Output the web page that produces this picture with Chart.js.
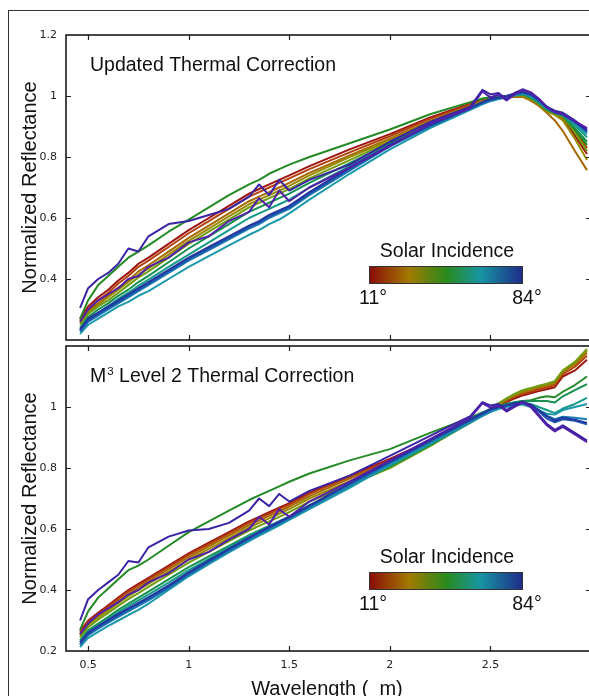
<!DOCTYPE html>
<html lang="en">
<head>
<meta charset="UTF-8">
<title>Normalized Reflectance vs Wavelength</title>
<script src="https://cdn.jsdelivr.net/npm/chart.js@4.4.1/dist/chart.umd.min.js"></script>
<style>
    html, body { margin: 0; padding: 0; background: #fff; overflow: hidden; }
    #wrap { position: relative; width: 589px; height: 696px; overflow: hidden; }
    #frame { position: absolute; left: 8px; top: 10px; width: 700px; height: 800px;
             border-left: 1px solid #333; border-top: 1px solid #333; }
    canvas { position: absolute; left: 0; }
    #top { top: 0; }
    #bottom { top: 340px; }
</style>
</head>
<body>
<div id="wrap">
    <div id="frame"></div>
    <canvas id="top" width="600" height="345"></canvas>
    <canvas id="bottom" width="600" height="356"></canvas>
</div>

<script>
    // ---------------- data ----------------
    var wavelength = [0.46, 0.50, 0.55, 0.60, 0.65, 0.70, 0.75, 0.80, 0.90, 1.00, 1.10, 1.20, 1.30, 1.35, 1.40, 1.45, 1.50, 1.60, 1.80, 2.00, 2.20,
                      2.40, 2.46, 2.50, 2.54, 2.58, 2.62, 2.66, 2.70, 2.74, 2.78, 2.82, 2.86, 2.92, 2.98];
    var incidence = [11, 16, 22, 27, 33, 38, 44, 50, 55, 61, 67, 72, 78, 84];
    var xTicks = [0.5, 1, 1.5, 2, 2.5];
    var yTicks = [0.2, 0.4, 0.6, 0.8, 1, 1.2];

    // Updated Thermal Correction, one row per incidence angle
    var updatedRefl = [
        [0.27, 0.31, 0.34, 0.365, 0.395, 0.42, 0.45, 0.47, 0.515, 0.56, 0.60, 0.64, 0.68, 0.695, 0.71, 0.725, 0.74, 0.77, 0.825, 0.875, 0.93,
         0.975, 0.988, 0.993, 0.997, 1.0, 1.003, 1.003, 0.99, 0.972, 0.952, 0.942, 0.93, 0.87, 0.81],
        [0.265, 0.30, 0.33, 0.355, 0.385, 0.41, 0.44, 0.46, 0.505, 0.55, 0.59, 0.63, 0.67, 0.685, 0.70, 0.715, 0.73, 0.76, 0.815, 0.868, 0.925,
         0.972, 0.986, 0.991, 0.995, 0.998, 1.0, 1.0, 0.988, 0.97, 0.95, 0.94, 0.928, 0.885, 0.83],
        [0.26, 0.295, 0.32, 0.345, 0.372, 0.395, 0.425, 0.445, 0.49, 0.535, 0.575, 0.615, 0.655, 0.67, 0.685, 0.70, 0.715, 0.748, 0.805, 0.86, 0.918,
         0.968, 0.983, 0.988, 0.992, 0.995, 0.997, 0.997, 0.985, 0.968, 0.945, 0.92, 0.885, 0.82, 0.757],
        [0.255, 0.29, 0.315, 0.34, 0.365, 0.39, 0.415, 0.435, 0.48, 0.525, 0.565, 0.605, 0.645, 0.66, 0.675, 0.69, 0.705, 0.74, 0.80, 0.855, 0.915,
         0.965, 0.982, 0.988, 0.993, 0.997, 1.0, 1.0, 0.99, 0.972, 0.95, 0.938, 0.92, 0.86, 0.79],
        [0.25, 0.285, 0.31, 0.33, 0.355, 0.38, 0.405, 0.425, 0.47, 0.515, 0.555, 0.595, 0.635, 0.65, 0.665, 0.68, 0.695, 0.73, 0.79, 0.85, 0.91,
         0.963, 0.98, 0.987, 0.993, 0.997, 1.002, 1.003, 0.993, 0.975, 0.953, 0.943, 0.932, 0.88, 0.82],
        [0.27, 0.33, 0.38, 0.41, 0.44, 0.47, 0.49, 0.51, 0.555, 0.595, 0.635, 0.675, 0.71, 0.725, 0.745, 0.76, 0.775, 0.80, 0.845, 0.89, 0.94,
         0.98, 0.992, 0.996, 0.999, 1.0, 1.004, 1.006, 0.995, 0.977, 0.955, 0.944, 0.935, 0.89, 0.84],
        [0.24, 0.275, 0.30, 0.32, 0.345, 0.365, 0.39, 0.41, 0.455, 0.50, 0.54, 0.58, 0.62, 0.635, 0.65, 0.665, 0.68, 0.715, 0.78, 0.845, 0.905,
         0.96, 0.978, 0.986, 0.992, 0.997, 1.003, 1.006, 0.996, 0.978, 0.956, 0.945, 0.936, 0.895, 0.85],
        [0.232, 0.265, 0.29, 0.31, 0.335, 0.355, 0.378, 0.398, 0.44, 0.48, 0.52, 0.56, 0.60, 0.615, 0.63, 0.645, 0.66, 0.70, 0.77, 0.84, 0.902,
         0.958, 0.976, 0.985, 0.991, 0.996, 1.002, 1.006, 0.997, 0.98, 0.957, 0.946, 0.938, 0.905, 0.865],
        [0.22, 0.25, 0.27, 0.29, 0.31, 0.325, 0.345, 0.36, 0.40, 0.44, 0.475, 0.51, 0.545, 0.56, 0.58, 0.595, 0.615, 0.66, 0.745, 0.825, 0.895,
         0.955, 0.973, 0.983, 0.99, 0.995, 1.002, 1.008, 1.0, 0.982, 0.96, 0.948, 0.94, 0.91, 0.875],
        [0.23, 0.26, 0.28, 0.30, 0.32, 0.34, 0.36, 0.38, 0.42, 0.46, 0.495, 0.53, 0.565, 0.58, 0.60, 0.615, 0.63, 0.675, 0.755, 0.835, 0.90,
         0.958, 0.975, 0.985, 0.992, 0.997, 1.004, 1.01, 1.002, 0.984, 0.962, 0.95, 0.942, 0.915, 0.88],
        [0.228, 0.262, 0.285, 0.305, 0.325, 0.345, 0.365, 0.385, 0.425, 0.465, 0.50, 0.535, 0.57, 0.585, 0.605, 0.62, 0.635, 0.68, 0.76, 0.838, 0.903,
         0.96, 0.978, 0.988, 0.994, 0.998, 1.006, 1.012, 1.004, 0.986, 0.963, 0.95, 0.943, 0.918, 0.886],
        [0.235, 0.27, 0.29, 0.31, 0.33, 0.35, 0.37, 0.39, 0.43, 0.47, 0.505, 0.54, 0.575, 0.59, 0.61, 0.625, 0.64, 0.685, 0.765, 0.84, 0.905,
         0.962, 0.98, 0.99, 0.995, 1.0, 1.008, 1.014, 1.006, 0.988, 0.965, 0.952, 0.945, 0.92, 0.885],
        [0.305, 0.37, 0.40, 0.42, 0.45, 0.50, 0.49, 0.54, 0.58, 0.59, 0.61, 0.63, 0.67, 0.71, 0.675, 0.725, 0.69, 0.725, 0.775, 0.85, 0.915,
         0.965, 1.02, 1.005, 1.01, 0.99, 1.01, 1.022, 1.012, 0.99, 0.962, 0.946, 0.94, 0.915, 0.89],
        [0.26, 0.30, 0.33, 0.35, 0.37, 0.40, 0.41, 0.44, 0.47, 0.52, 0.54, 0.59, 0.62, 0.665, 0.635, 0.69, 0.655, 0.70, 0.765, 0.835, 0.91,
         0.96, 1.015, 0.995, 1.005, 0.985, 1.005, 1.02, 1.012, 0.992, 0.965, 0.948, 0.942, 0.918, 0.895]
    ];

    // M3 Level 2 Thermal Correction, one row per incidence angle
    var level2Refl = [
        [0.265, 0.30, 0.325, 0.35, 0.375, 0.40, 0.42, 0.44, 0.48, 0.52, 0.555, 0.59, 0.625, 0.64, 0.655, 0.67, 0.685, 0.72, 0.775, 0.83, 0.89,
         0.955, 0.975, 0.99, 1.003, 1.016, 1.028, 1.038, 1.045, 1.052, 1.058, 1.065, 1.10, 1.12, 1.155],
        [0.26, 0.295, 0.32, 0.345, 0.37, 0.395, 0.415, 0.435, 0.475, 0.515, 0.55, 0.585, 0.62, 0.635, 0.65, 0.665, 0.68, 0.715, 0.77, 0.825, 0.885,
         0.952, 0.975, 0.99, 1.005, 1.02, 1.033, 1.043, 1.05, 1.058, 1.064, 1.072, 1.108, 1.132, 1.168],
        [0.255, 0.29, 0.315, 0.34, 0.363, 0.387, 0.408, 0.428, 0.468, 0.508, 0.543, 0.578, 0.613, 0.628, 0.643, 0.658, 0.673, 0.708, 0.765, 0.82, 0.882,
         0.952, 0.976, 0.992, 1.008, 1.023, 1.037, 1.048, 1.056, 1.064, 1.07, 1.078, 1.115, 1.14, 1.178],
        [0.25, 0.285, 0.31, 0.333, 0.357, 0.38, 0.40, 0.42, 0.46, 0.50, 0.535, 0.57, 0.605, 0.62, 0.635, 0.65, 0.665, 0.70, 0.757, 0.812, 0.878,
         0.952, 0.977, 0.994, 1.01, 1.026, 1.04, 1.052, 1.06, 1.068, 1.074, 1.082, 1.118, 1.145, 1.185],
        [0.245, 0.278, 0.303, 0.325, 0.348, 0.37, 0.39, 0.41, 0.45, 0.49, 0.525, 0.56, 0.595, 0.61, 0.625, 0.64, 0.655, 0.69, 0.745, 0.80, 0.872,
         0.95, 0.976, 0.995, 1.012, 1.028, 1.043, 1.055, 1.062, 1.07, 1.076, 1.085, 1.12, 1.148, 1.19],
        [0.27, 0.33, 0.375, 0.405, 0.435, 0.465, 0.48, 0.50, 0.545, 0.59, 0.625, 0.66, 0.695, 0.71, 0.725, 0.74, 0.755, 0.782, 0.825, 0.862, 0.915,
         0.965, 0.982, 0.993, 1.003, 1.01, 1.015, 1.02, 1.022, 1.03, 1.035, 1.032, 1.05, 1.072, 1.10],
        [0.235, 0.268, 0.29, 0.312, 0.335, 0.355, 0.375, 0.395, 0.435, 0.475, 0.51, 0.545, 0.58, 0.595, 0.61, 0.625, 0.64, 0.678, 0.74, 0.805, 0.875,
         0.948, 0.972, 0.988, 1.0, 1.01, 1.016, 1.02, 1.02, 1.02, 1.02, 1.015, 1.035, 1.055, 1.075],
        [0.23, 0.262, 0.284, 0.305, 0.327, 0.347, 0.366, 0.385, 0.424, 0.465, 0.502, 0.54, 0.577, 0.593, 0.609, 0.625, 0.641, 0.677, 0.74, 0.808, 0.878,
         0.95, 0.973, 0.987, 0.998, 1.006, 1.012, 1.015, 1.01, 1.0, 0.99, 0.98, 0.995, 1.01, 1.03],
        [0.213, 0.243, 0.263, 0.282, 0.30, 0.318, 0.335, 0.355, 0.40, 0.445, 0.485, 0.523, 0.56, 0.578, 0.595, 0.612, 0.63, 0.665, 0.735, 0.81, 0.88,
         0.95, 0.97, 0.983, 0.993, 1.0, 1.005, 1.008, 1.0, 0.99, 0.978, 0.975, 0.99, 1.0, 1.01],
        [0.222, 0.252, 0.273, 0.293, 0.312, 0.33, 0.348, 0.366, 0.405, 0.45, 0.49, 0.528, 0.565, 0.582, 0.60, 0.617, 0.634, 0.67, 0.742, 0.815, 0.885,
         0.952, 0.973, 0.987, 0.997, 1.004, 1.01, 1.012, 1.005, 0.99, 0.972, 0.96, 0.968, 0.965, 0.96],
        [0.222, 0.255, 0.277, 0.297, 0.317, 0.336, 0.354, 0.372, 0.41, 0.453, 0.493, 0.532, 0.57, 0.587, 0.604, 0.621, 0.638, 0.675, 0.748, 0.82, 0.89,
         0.96, 0.98, 0.993, 1.0, 1.005, 1.012, 1.015, 1.005, 0.985, 0.962, 0.95, 0.96, 0.955, 0.943],
        [0.228, 0.26, 0.282, 0.302, 0.322, 0.34, 0.358, 0.376, 0.415, 0.458, 0.497, 0.535, 0.572, 0.59, 0.607, 0.624, 0.64, 0.677, 0.75, 0.82, 0.89,
         0.958, 0.978, 0.992, 1.0, 1.006, 1.012, 1.015, 1.008, 0.99, 0.97, 0.955, 0.965, 0.958, 0.948],
        [0.30, 0.37, 0.40, 0.425, 0.45, 0.495, 0.49, 0.54, 0.575, 0.595, 0.60, 0.62, 0.66, 0.70, 0.675, 0.715, 0.69, 0.725, 0.775, 0.84, 0.905,
         0.97, 1.016, 1.005, 1.01, 0.99, 1.005, 1.018, 1.005, 0.975, 0.945, 0.925, 0.94, 0.915, 0.89],
        [0.255, 0.29, 0.32, 0.34, 0.36, 0.385, 0.40, 0.425, 0.455, 0.50, 0.525, 0.565, 0.60, 0.64, 0.615, 0.665, 0.64, 0.69, 0.755, 0.825, 0.895,
         0.965, 1.012, 0.998, 1.005, 0.985, 1.0, 1.015, 1.0, 0.97, 0.94, 0.92, 0.935, 0.91, 0.885]
    ];

    // colour for each incidence angle (red -> green -> teal -> blue/violet)
    var lineColors = ['#9e1510', '#b2400c', '#a86800', '#9a8a00', '#6f9c10', '#238a25', '#169050',
                      '#159a88', '#1c98aa', '#1a7ab2', '#1f55ad', '#2238a0', '#3a24a6', '#5220a8'];

    var sansFont = '"Liberation Sans", Arial, sans-serif';
    var tickFont = '"DejaVu Sans", sans-serif';

    //-------------------------------------------- drawing helpers --------------------------------------------

    function buildDatasets(rows) {
        var sets = [];
        // dataset 0 is painted last, so put the high angles first
        for (var k = rows.length - 1; k >= 0; k--) {
            sets.push({
                label: incidence[k] + '°',
                data: wavelength.map(function (w, i) { return {x: w, y: rows[k][i]}; }),
                borderColor: lineColors[k],
                borderWidth: 2,
                pointRadius: 0,
                borderJoinStyle: 'round',
                fill: false,
                tension: 0
            });
        }
        return sets;
    }

    function drawColorbar(ctx, legendTop) {
        var x0 = 369, x1 = 523;
        ctx.save();
        ctx.fillStyle = '#111';
        ctx.font = '19.5px ' + sansFont;
        ctx.textAlign = 'center';
        ctx.fillText('Solar Incidence', 447, legendTop);
        var barTop = legendTop + 9;
        var g = ctx.createLinearGradient(x0, 0, x1, 0);
        g.addColorStop(0, '#8a0a0a');
        g.addColorStop(0.26, '#a27a00');
        g.addColorStop(0.5, '#2a8a1c');
        g.addColorStop(0.72, '#1896a2');
        g.addColorStop(1, '#1e2a88');
        ctx.fillStyle = g;
        ctx.fillRect(x0, barTop, x1 - x0, 18);
        ctx.strokeStyle = '#333';
        ctx.lineWidth = 1;
        ctx.strokeRect(x0 + 0.5, barTop + 0.5, x1 - x0 - 1, 17);
        ctx.fillStyle = '#111';
        ctx.font = '19.5px ' + sansFont;
        ctx.fillText('11°', 373, barTop + 38);
        ctx.fillText('84°', 527, barTop + 38);
        ctx.restore();
    }

    function framePlugin(cfg) {
        return {
            id: 'frame_' + cfg.name,
            afterDraw: function (chart) {
                var ctx = chart.ctx;
                var a = chart.chartArea;
                var xs = chart.scales.x, ys = chart.scales.y;
                ctx.save();
                // inward tick marks on all four sides
                ctx.strokeStyle = '#222';
                ctx.lineWidth = 1.2;
                ctx.beginPath();
                yTicks.forEach(function (v) {
                    var py = Math.round(ys.getPixelForValue(v)) + 0.5;
                    if (py < a.top + 2 || py > a.bottom - 2) return;
                    ctx.moveTo(a.left, py); ctx.lineTo(a.left + 5, py);
                    ctx.moveTo(a.right, py); ctx.lineTo(a.right - 5, py);
                });
                xTicks.forEach(function (v) {
                    var px = Math.round(xs.getPixelForValue(v)) + 0.5;
                    ctx.moveTo(px, a.top); ctx.lineTo(px, a.top + 5);
                    ctx.moveTo(px, a.bottom); ctx.lineTo(px, a.bottom - 5);
                });
                ctx.stroke();
                // plot box
                ctx.strokeStyle = '#1a1a1a';
                ctx.lineWidth = 1.6;
                ctx.strokeRect(a.left, a.top, a.right - a.left, a.bottom - a.top);

                // panel title
                ctx.fillStyle = '#111';
                ctx.textAlign = 'left';
                ctx.font = '19.5px ' + sansFont;
                var ty = a.top + 36;
                if (cfg.name === 'top') {
                    ctx.fillText('Updated Thermal Correction', 90, ty);
                } else {
                    ctx.fillText('M', 90, ty);
                    var wm = ctx.measureText('M').width;
                    ctx.font = '11.5px ' + sansFont;
                    ctx.fillText('3', 91 + wm, ty - 7);
                    var w3 = ctx.measureText('3').width;
                    ctx.font = '19.5px ' + sansFont;
                    ctx.fillText(' Level 2 Thermal Correction', 91 + wm + w3, ty);
                }

                // y axis title
                ctx.save();
                ctx.translate(36, (a.top + a.bottom) / 2);
                ctx.rotate(-Math.PI / 2);
                ctx.textAlign = 'center';
                ctx.font = '20px ' + sansFont;
                ctx.fillText('Normalized Reflectance', 0, 0);
                ctx.restore();

                // x axis title (bottom panel only)
                if (cfg.name === 'bottom') {
                    ctx.textAlign = 'center';
                    ctx.font = '20px ' + sansFont;
                    ctx.fillText('Wavelength (  m)', 327, a.bottom + 44);
                }

                drawColorbar(ctx, cfg.legendTop);
                ctx.restore();
            }
        };
    }

    function makePanel(canvasId, rows, cfg) {
        var ctx = document.getElementById(canvasId).getContext('2d');
        return new Chart(ctx, {
            type: 'line',
            data: {datasets: buildDatasets(rows)},
            options: {
                responsive: false,
                animation: false,
                devicePixelRatio: 1,
                layout: {padding: cfg.padding},
                plugins: {legend: {display: false}, tooltip: {enabled: false}},
                scales: {
                    x: {
                        type: 'linear',
                        min: 0.39,
                        max: 3.0,
                        display: cfg.showX,
                        afterBuildTicks: function (s) { s.ticks = xTicks.map(function (v) { return {value: v}; }); },
                        afterFit: function (s) {
                            if (cfg.showX) s.height = 45;
                            s.paddingLeft = 0; s.paddingRight = 0;
                        },
                        grid: {display: false, drawTicks: false},
                        border: {display: false},
                        ticks: {
                            padding: 8,
                            color: '#222',
                            font: {family: tickFont, size: 11},
                            maxRotation: 0,
                            callback: function (v) { return String(Number(v.toFixed(1))); }
                        }
                    },
                    y: {
                        min: 0.2,
                        max: 1.2,
                        afterBuildTicks: function (s) { s.ticks = yTicks.map(function (v) { return {value: v}; }); },
                        afterFit: function (s) {
                            s.width = 66;
                            s.paddingTop = 0; s.paddingBottom = 0;
                        },
                        grid: {display: false, drawTicks: false},
                        border: {display: false},
                        ticks: {
                            padding: 9,
                            color: '#222',
                            font: {family: tickFont, size: 11},
                            callback: function (v) {
                                if (Math.abs(v - cfg.hideY) < 1e-6) return '';
                                return String(Number(v.toFixed(1)));
                            }
                        }
                    }
                }
            },
            plugins: [framePlugin(cfg)]
        });
    }

    makePanel('top', updatedRefl, {
        name: 'top', showX: false, hideY: 0.2, legendTop: 257,
        padding: {left: 0, right: 9, top: 35, bottom: 5}
    });
    makePanel('bottom', level2Refl, {
        name: 'bottom', showX: true, hideY: 1.2, legendTop: 563 - 340,
        padding: {left: 0, right: 9, top: 6, bottom: 0}
    });
</script>
</body>
</html>
